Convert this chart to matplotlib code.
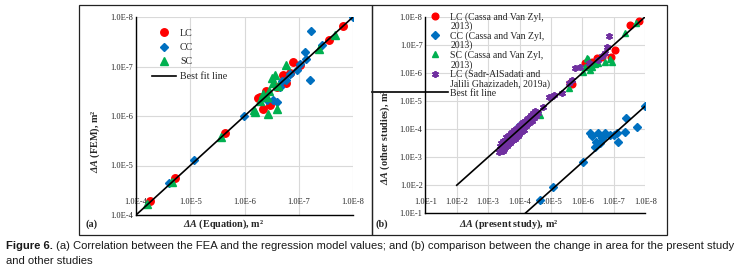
import numpy as np
import matplotlib
matplotlib.use("Agg")
import matplotlib.pyplot as plt
from matplotlib.lines import Line2D
from matplotlib.legend_handler import HandlerLine2D
from matplotlib.patches import Rectangle
from matplotlib.ticker import FixedLocator, FuncFormatter, NullLocator

plt.rcParams["font.family"] = ["Liberation Serif", "DejaVu Serif"]
plt.rcParams["mathtext.fontset"] = "custom"
plt.rcParams["mathtext.rm"] = "Liberation Serif"
plt.rcParams["mathtext.it"] = "Liberation Serif:italic"
plt.rcParams["mathtext.bf"] = "Liberation Serif:bold"
plt.rcParams["mathtext.bfit"] = "Liberation Serif:italic:bold"

# values are stored as exponents e, the plotted value is 1.0E-e
# panel (a): equation vs FEM
lc_a_x = [4.25, 4.71, 5.64, 6.24, 6.28, 6.34, 6.47, 6.40, 6.59, 6.71, 6.83, 6.76, 6.90, 7.02, 7.56, 7.82]
lc_a_y = [4.28, 4.74, 5.65, 6.37, 6.39, 6.15, 6.22, 6.51, 6.59, 6.82, 6.86, 6.67, 7.09, 7.03, 7.53, 7.81]
cc_a_x = [4.60, 5.07, 5.99, 6.42, 6.53, 6.59, 6.65, 6.77, 6.83, 6.96, 7.02, 7.11, 7.14, 7.20, 7.23, 7.42, 8.00, 6.70]
cc_a_y = [4.65, 5.11, 6.00, 6.32, 6.32, 6.29, 6.59, 6.72, 6.84, 6.92, 7.06, 7.29, 7.16, 6.72, 7.72, 7.43, 8.00, 6.70]
sc_a_x = [4.20, 4.66, 5.56, 6.17, 6.19, 6.44, 6.59, 6.41, 6.50, 6.53, 6.62, 6.57, 6.77, 6.35, 6.45, 7.37, 7.66, 6.28]
sc_a_y = [4.22, 4.67, 5.58, 6.12, 6.08, 6.05, 6.15, 6.39, 6.76, 6.66, 6.60, 6.83, 7.03, 6.45, 6.50, 7.36, 7.63, 6.30]
fit_a_x = [4.0, 8.0]
fit_a_y = [4.0, 8.0]

# panel (b): present study vs other studies
lc_b_x = [7.81, 7.51, 7.03, 6.92, 6.62, 6.46, 6.30, 6.14, 6.08, 5.60, 5.67]
lc_b_y = [7.86, 7.70, 6.81, 6.55, 6.58, 6.52, 6.40, 6.28, 6.34, 5.63, 5.60]
cc_b_x = [7.99, 7.72, 7.40, 7.35, 7.14, 7.09, 6.99, 6.87, 6.73, 6.66, 6.62, 6.56, 6.50,
          6.43, 6.41, 6.30, 6.24, 6.01, 5.07, 4.65, 3.97]
cc_b_y = [4.82, 4.08, 4.38, 3.91, 3.55, 3.85, 3.79, 3.79, 3.85, 3.73, 3.67, 3.49, 3.85,
          3.55, 3.37, 3.75, 3.85, 2.84, 1.93, 1.47, 4.12]
sc_b_x = [7.70, 7.35, 6.95, 6.89, 6.73, 6.51, 6.30, 6.19, 6.14, 6.09, 6.03, 6.25, 6.40, 5.56, 4.66, 3.97]
sc_b_y = [7.76, 7.41, 6.40, 6.48, 6.40, 6.34, 6.22, 6.48, 6.52, 6.22, 6.04, 6.10, 6.30, 5.45, 4.50, 4.05]
sadr_b_x = [3.35, 3.37, 3.40, 3.42, 3.44, 3.46, 3.47, 3.50, 3.52, 3.49, 3.55, 3.57, 3.54,
            3.60, 3.62, 3.59, 3.65, 3.67, 3.64, 3.70, 3.72, 3.69, 3.75, 3.77, 3.74, 3.80,
            3.82, 3.79, 3.85, 3.87, 3.84, 3.90, 3.92, 3.89, 3.95, 3.97, 3.94, 4.00, 4.02,
            3.99, 4.05, 4.07, 4.04, 4.10, 4.12, 4.09, 4.15, 4.17, 4.14, 4.20, 4.22, 4.25,
            4.27, 4.30, 4.32, 4.38, 4.36, 4.45, 4.43, 4.52, 4.50, 4.60,
            3.43, 3.53, 3.63, 3.73, 3.83, 3.93, 4.03, 4.13, 4.23, 4.33,
            4.74, 4.92, 5.00, 5.08, 5.35, 5.56, 5.66, 5.76, 5.92, 6.20, 6.51, 6.62, 6.73,
            6.77, 6.85]
sadr_b_y = [3.20, 3.38, 3.28, 3.50, 3.35, 3.58, 3.22, 3.42, 3.62, 3.30, 3.48, 3.70, 3.36,
            3.52, 3.75, 3.40, 3.58, 3.80, 3.46, 3.62, 3.86, 3.52, 3.68, 3.90, 3.56, 3.72,
            3.95, 3.60, 3.78, 4.00, 3.66, 3.82, 4.05, 3.72, 3.88, 4.10, 3.76, 3.92, 4.15,
            3.82, 3.98, 4.20, 3.88, 4.02, 4.24, 3.92, 4.08, 4.30, 3.98, 4.12, 4.34, 4.18,
            4.40, 4.22, 4.44, 4.30, 4.50, 4.40, 4.58, 4.48, 4.65, 4.58,
            3.44, 3.53, 3.64, 3.74, 3.84, 3.94, 4.04, 4.14, 4.26, 4.34,
            4.80, 5.15, 5.13, 5.21, 5.30, 5.63, 5.74, 6.16, 6.22, 6.34, 6.46, 6.60, 6.70,
            6.93, 7.31]
fit_b1_x = [2.0, 8.0]
fit_b1_y = [2.0, 8.0]
fit_b2_x = [4.18, 8.0]
fit_b2_y = [1.0, 4.82]

legend_a = ["LC", "CC", "SC", "Best fit line"]
legend_b = ["LC (Cassa and Van Zyl,", "2013)", "CC (Cassa and Van Zyl,", "2013)",
            "SC (Cassa and Van Zyl,", "2013)", "LC (Sadr-AlSadati and",
            "Jalili Ghazizadeh, 2019a)", "Best fit line"]

RED = "#ff0000"
BLUE = "#0070c0"
GREEN = "#00b050"
PURPLE = "#7030a0"
TXT = "#262626"
W, H = 744, 273


def ev(e):
    return 10.0 ** -np.asarray(e, dtype=float)


def fx(px):
    return px / W


def fy(py):
    return 1 - py / H


class LongLine(HandlerLine2D):
    # best fit line in the legend reaches out to the left, as in the original
    def __init__(self, extra, **kw):
        HandlerLine2D.__init__(self, **kw)
        self.extra = extra

    def create_artists(self, legend, orig_handle, xdescent, ydescent,
                       width, height, fontsize, trans):
        y = height / 2 - ydescent
        line = Line2D([-xdescent - self.extra, width - xdescent], [y, y],
                      color=orig_handle.get_color(), lw=orig_handle.get_linewidth())
        line.set_transform(trans)
        return [line]


def style_axes(ax, lo, hi, xpad):
    ax.set_xscale("log")
    ax.set_yscale("log")
    ax.set_xlim(10.0 ** -lo, 10.0 ** -hi)
    ax.set_ylim(10.0 ** -lo, 10.0 ** -hi)
    ticks = [10.0 ** -k for k in range(lo, hi + 1)]
    fmt = FuncFormatter(lambda v, p: "1.0E%d" % round(np.log10(v)))
    for axis in (ax.xaxis, ax.yaxis):
        axis.set_major_locator(FixedLocator(ticks))
        axis.set_minor_locator(NullLocator())
        axis.set_major_formatter(fmt)
    ax.grid(True, color="#d9d9d9", lw=0.8)
    ax.set_axisbelow(True)
    ax.spines["top"].set_visible(False)
    ax.spines["right"].set_visible(False)
    for s in ("left", "bottom"):
        ax.spines[s].set_color("black")
        ax.spines[s].set_linewidth(1.0)
    ax.tick_params(length=0, labelsize=6.0, labelcolor=TXT)
    ax.tick_params(axis="x", pad=xpad)
    ax.tick_params(axis="y", pad=2)
    ax.patch.set_alpha(0)


fig = plt.figure(figsize=(W / 100, H / 100), dpi=100)

# panel frames
for x0, x1 in ((79, 372), (372, 667)):
    fig.add_artist(Rectangle((fx(x0), fy(235)), (x1 - x0) / W, 230 / H,
                             transform=fig.transFigure, fill=False, ec="#222222", lw=0.9))

# ---- panel (a)
ax_a = fig.add_axes([fx(136), fy(215), 217 / W, 198 / H])
style_axes(ax_a, 4, 8, -12)
p_lc, = ax_a.plot(ev(lc_a_x), ev(lc_a_y), "o", color=RED, ms=5.4, mec=RED)
p_cc, = ax_a.plot(ev(cc_a_x), ev(cc_a_y), "D", color=BLUE, ms=4.0, mec=BLUE)
p_sc, = ax_a.plot(ev(sc_a_x), ev(sc_a_y), "^", color=GREEN, ms=5.2, mec=GREEN)
fit_a, = ax_a.plot(ev(fit_a_x), ev(fit_a_y), color="black", lw=1.2)
ax_a.legend([p_lc, p_cc, p_sc, fit_a], legend_a, loc="upper left",
            bbox_to_anchor=(fx(152), fy(28.5)), bbox_transform=fig.transFigure,
            frameon=False, fontsize=7.2, handlelength=2.4, handletextpad=0.4,
            labelspacing=0.55, borderpad=0, borderaxespad=0, numpoints=1,
            labelcolor=TXT)

# ---- panel (b)
ax_b = fig.add_axes([fx(425.3), fy(213.3), 220 / W, 196.6 / H])
style_axes(ax_b, 1, 8, -11.3)
q_lc, = ax_b.plot(ev(lc_b_x), ev(lc_b_y), "o", color=RED, ms=4.8, mec=RED)
q_cc, = ax_b.plot(ev(cc_b_x), ev(cc_b_y), "D", color=BLUE, ms=3.6, mec=BLUE)
q_sc, = ax_b.plot(ev(sc_b_x), ev(sc_b_y), "^", color=GREEN, ms=4.8, mec=GREEN)
q_pu, = ax_b.plot(ev(sadr_b_x), ev(sadr_b_y), ls="none", marker=(6, 2, 0),
                  color=PURPLE, ms=5.0, mew=1.3)
fit_b, = ax_b.plot(ev(fit_b1_x), ev(fit_b1_y), color="black", lw=1.2)
ax_b.plot(ev(fit_b2_x), ev(fit_b2_y), color="black", lw=1.2)
blank = Line2D([], [], ls="none")
ax_b.legend([q_lc, blank, q_cc, blank, q_sc, blank, q_pu, blank, fit_b], legend_b,
            loc="upper left", bbox_to_anchor=(fx(421), fy(12)),
            bbox_transform=fig.transFigure, frameon=False, fontsize=7.0,
            handlelength=2.8, handletextpad=0.2, labelspacing=0.0,
            borderpad=0, borderaxespad=0, numpoints=1, labelcolor=TXT,
            handler_map={fit_b: LongLine(35)})

# axis titles and panel tags
lab = dict(fontweight="bold", size=7.3, color=TXT, ha="center", va="center")
fig.text(fx(224), fy(224), r"$\mathbfit{\Delta A}$ (Equation), m²", **lab)
fig.text(fx(95), fy(141), r"$\mathbfit{\Delta A}$ (FEM), m²", rotation=90, **lab)
fig.text(fx(508.7), fy(224), r"$\mathbfit{\Delta A}$ (present study), m²", **lab)
fig.text(fx(385.3), fy(137), r"$\mathbfit{\Delta A}$ (other studies), m²", rotation=90, **lab)
fig.text(fx(86), fy(224), "(a)", fontweight="bold", size=7.3, color=TXT, va="center")
fig.text(fx(375), fy(224), "(b)", fontweight="bold", size=7.3, color=TXT, va="center")

# caption
cap_font = ["Liberation Sans Narrow", "Liberation Sans", "DejaVu Sans"]
t1 = fig.text(fx(6), fy(248.7), "Figure 6.", fontweight="bold", family=cap_font,
              size=8.15, color="#1a1a1a", va="baseline")
r = fig.canvas.get_renderer()
bb = t1.get_window_extent(renderer=r)
fig.text((bb.x1 + 3) / W, fy(248.7),
         "(a) Correlation between the FEA and the regression model values; and (b) "
         "comparison between the change in area for the present study",
         family=cap_font, size=8.15, color="#1a1a1a", va="baseline")
fig.text(fx(6), fy(264.3), "and other studies", family=cap_font, size=8.15,
         color="#1a1a1a", va="baseline")

fig.savefig("out.png", dpi=100)
